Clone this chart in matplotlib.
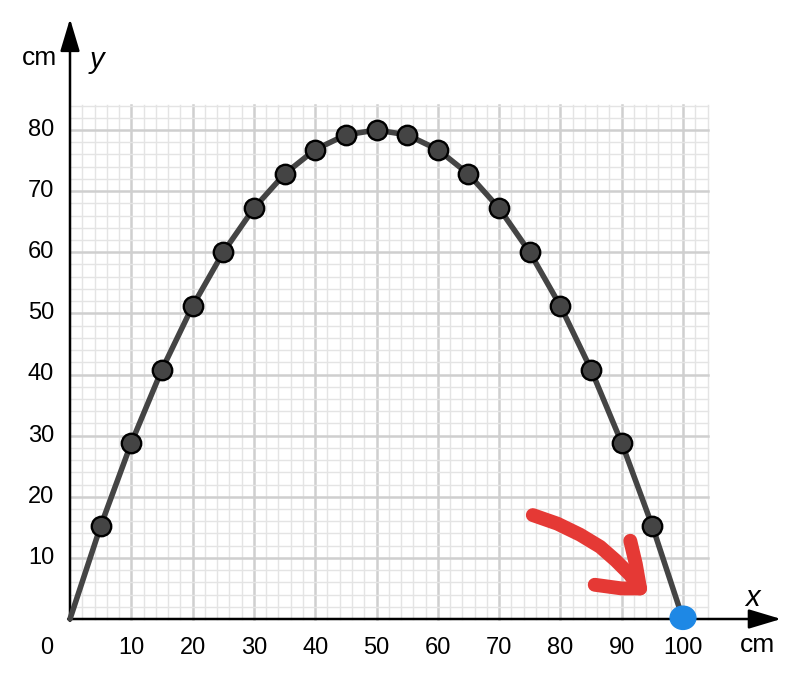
import numpy as np
import matplotlib.pyplot as plt
from matplotlib.patches import Ellipse

plt.rcParams["font.family"] = ["Liberation Sans", "DejaVu Sans"]

# == DATOS ==
x_pts = [5, 10, 15, 20, 25, 30, 35, 40, 45, 50, 55, 60, 65, 70, 75, 80, 85, 90, 95]
y_pts = [15.2, 28.8, 40.8, 51.2, 60, 67.2, 72.8, 76.8, 79.2, 80,
         79.2, 76.8, 72.8, 67.2, 60, 51.2, 40.8, 28.8, 15.2]
x_start, x_end = 0, 100
x_ticks = [10, 20, 30, 40, 50, 60, 70, 80, 90, 100]
y_ticks = [10, 20, 30, 40, 50, 60, 70, 80]

# trazo rojo a mano (flecha)
arrow_shaft_x = [75.5, 79.5, 83.2, 86.5, 89.0, 91.3, 93.0]
arrow_shaft_y = [17.0, 15.6, 13.8, 11.8, 9.6, 7.3, 5.0]
arrow_head_x = [91.4, 92.3, 93.0, 90.0, 85.6]
arrow_head_y = [12.8, 9.0, 5.0, 5.0, 5.6]

# == FIGURA ==
fig = plt.figure(figsize=(8, 6.94), dpi=100)
ax = fig.add_axes([0, 0, 1, 1])
ax.set_xlim(-70 / 6.13, 730 / 6.13)
ax.set_ylim(-75 / 6.1125, 619 / 6.1125)
ax.axis("off")

# Cuadricula
gx_max, gy_max = 104.1, 84.1
for gx in np.arange(2, 105, 2):
    major = gx % 10 == 0
    ax.plot([gx, gx], [0, gy_max], color="#cfcfcf" if major else "#e4e4e4",
            lw=1.8 if major else 1.0, zorder=1)
for gy in np.arange(2, 85, 2):
    major = gy % 10 == 0
    ax.plot([0, gx_max], [gy, gy], color="#cfcfcf" if major else "#e4e4e4",
            lw=1.8 if major else 1.0, zorder=1)

# Ejes con flechas
ax.annotate("", xy=(0, 98.2), xytext=(0, -0.3),
            arrowprops=dict(arrowstyle="-|>,head_length=1.0,head_width=0.3",
                            mutation_scale=20, lw=1.8, color="black",
                            shrinkA=0, shrinkB=0), zorder=3)
ax.annotate("", xy=(116, 0), xytext=(-0.3, 0),
            arrowprops=dict(arrowstyle="-|>,head_length=1.0,head_width=0.3",
                            mutation_scale=20, lw=1.8, color="black",
                            shrinkA=0, shrinkB=0), zorder=3)

# Curva y puntos
line_x = [x_start] + x_pts + [x_end]
line_y = [0] + y_pts + [0]
ax.plot(line_x, line_y, color="#444444", lw=4.0, solid_capstyle="round",
        solid_joinstyle="round", zorder=4)
ax.plot(x_pts, y_pts, "o", markersize=14, markerfacecolor="#444444",
        markeredgecolor="black", markeredgewidth=1.7, zorder=5)

# Punto azul
ax.add_patch(Ellipse((x_end, 0.2), 4.2, 3.8, color="#1e88e5", zorder=6))

# Flecha roja
ax.plot(arrow_shaft_x, arrow_shaft_y, color="#e53935", lw=10,
        solid_capstyle="round", solid_joinstyle="round", zorder=6)
ax.plot(arrow_head_x, arrow_head_y, color="#e53935", lw=10,
        solid_capstyle="round", solid_joinstyle="round", zorder=6)

# Etiquetas
fs = 17
for t in x_ticks:
    ax.text(t, -4.7, str(t), ha="center", va="center", fontsize=fs)
for t in y_ticks:
    ax.text(-2.6, t, str(t), ha="right", va="center", fontsize=fs)
ax.text(-3.8, -4.7, "0", ha="center", va="center", fontsize=fs)
ax.text(-4.9, 91.8, "cm", ha="center", va="center", fontsize=19)
ax.text(4.4, 91.4, "y", ha="center", va="center", fontsize=21, style="italic")
ax.text(111.4, 3.4, "x", ha="center", va="center", fontsize=21, style="italic")
ax.text(112.1, -4.2, "cm", ha="center", va="center", fontsize=19)

fig.savefig("out.png", dpi=100)
